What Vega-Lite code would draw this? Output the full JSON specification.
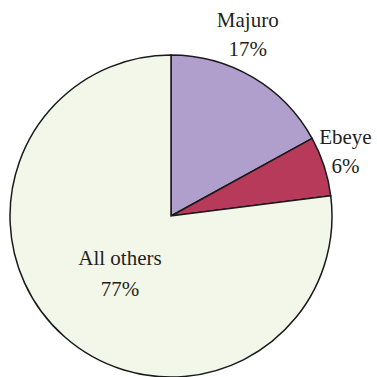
{
  "$schema": "https://vega.github.io/schema/vega-lite/v6.json",
  "width": 322,
  "height": 322,
  "autosize": "none",
  "padding": {"left": 10, "top": 55, "right": 45, "bottom": 0},
  "background": "white",
  "config": {"view": {"stroke": null}, "text": {"font": "Liberation Serif", "fontSize": 21, "fill": "#231f20", "baseline": "middle", "align": "center"}},
  "data": {"values": [
    {"category": "Majuro", "value": 0.17, "order": 1},
    {"category": "Ebeye", "value": 0.06, "order": 2},
    {"category": "All others", "value": 0.77, "order": 3}
  ]},
  "encoding": {
    "theta": {"field": "value", "type": "quantitative", "stack": true},
    "order": {"field": "order", "type": "quantitative"}
  },
  "layer": [
    {
      "mark": {"type": "arc", "outerRadius": 161, "stroke": "#1a1a1a", "strokeWidth": 1.5},
      "encoding": {
        "color": {"field": "category", "type": "nominal", "legend": null,
          "scale": {"domain": ["Majuro", "Ebeye", "All others"], "range": ["#b09fcc", "#b83a5a", "#f3f7ea"]}}
      }
    },
    {
      "mark": {"type": "text", "radius": 190, "dx": -20, "dy": -31},
      "encoding": {"text": {"condition": {"test": "datum.category === 'Majuro'", "field": "category"}, "value": ""}}
    },
    {
      "mark": {"type": "text", "radius": 190, "dx": -20, "dy": -2},
      "encoding": {"text": {"condition": {"test": "datum.category === 'Majuro'", "field": "value", "format": ".0%"}, "value": ""}}
    },
    {
      "mark": {"type": "text", "radius": 175, "dx": 8, "dy": -24},
      "encoding": {"text": {"condition": {"test": "datum.category === 'Ebeye'", "field": "category"}, "value": ""}}
    },
    {
      "mark": {"type": "text", "radius": 175, "dx": 8, "dy": 5},
      "encoding": {"text": {"condition": {"test": "datum.category === 'Ebeye'", "field": "value", "format": ".0%"}, "value": ""}}
    },
    {
      "mark": {"type": "text", "radius": 90, "dx": 8.5, "dy": -24.5},
      "encoding": {"text": {"condition": {"test": "datum.category === 'All others'", "field": "category"}, "value": ""}}
    },
    {
      "mark": {"type": "text", "radius": 90, "dx": 8.5, "dy": 6.5},
      "encoding": {"text": {"condition": {"test": "datum.category === 'All others'", "field": "value", "format": ".0%"}, "value": ""}}
    }
  ]
}
